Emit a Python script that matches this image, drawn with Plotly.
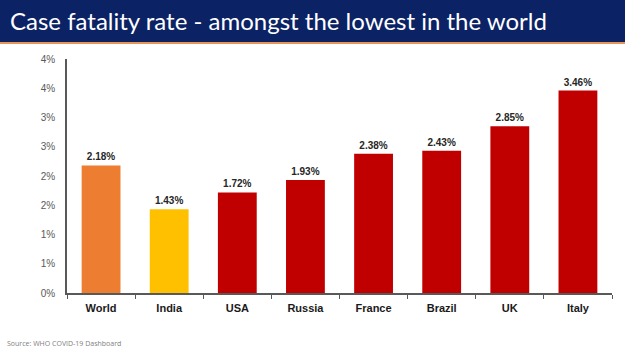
import plotly.graph_objects as go

countries = ["World", "India", "USA", "Russia", "France", "Brazil", "UK", "Italy"]
cfr = [2.18, 1.43, 1.72, 1.93, 2.38, 2.43, 2.85, 3.46]
bar_colors = ["#ED7D31", "#FFC000", "#C00000", "#C00000", "#C00000", "#C00000", "#C00000", "#C00000"]
y_tickvals = [0, 0.5, 1.0, 1.5, 2.0, 2.5, 3.0, 3.5, 4.0]
y_ticktext = ["0%", "1%", "1%", "2%", "2%", "3%", "3%", "4%", "4%"]
title = "Case fatality rate - amongst the lowest in the world"
source = "Source: WHO COVID-19 Dashboard"

W, H = 625, 351
ml, mr, mt, mb = 67, 13, 59, 58
ph = H - mt - mb

def py(px):
    return (H - mb - px) / ph

fig = go.Figure(go.Bar(
    x=countries, y=cfr,
    marker=dict(color=bar_colors, line=dict(width=0)),
    text=[f"{v:.2f}%" for v in cfr],
    textposition="outside",
    textfont=dict(family="Liberation Sans, Arial", size=10, color="#262626", weight="bold"),
    cliponaxis=False,
))

fig.update_layout(
    width=W, height=H,
    margin=dict(l=ml, r=mr, t=mt, b=mb),
    paper_bgcolor="white", plot_bgcolor="white",
    bargap=0.43,
    showlegend=False,
    xaxis=dict(
        showline=True, linecolor="#595959", linewidth=1.5,
        ticks="outside", tickson="boundaries", ticklen=4, tickcolor="#595959",
        tickfont=dict(family="Liberation Sans, Arial", size=11, color="#1a1a1a", weight="bold"),
        ticklabelstandoff=4,
        showgrid=False,
    ),
    yaxis=dict(
        range=[0, 4], tickvals=y_tickvals, ticktext=y_ticktext,
        showline=True, linecolor="#595959", linewidth=1.5,
        showgrid=False, zeroline=False, ticks="",
        tickfont=dict(family="Liberation Sans, Arial", size=10, color="#595959"),
        ticklabelstandoff=8,
    ),
    shapes=[
        dict(type="rect", xref="paper", yref="paper", x0=-ml / (W - ml - mr), x1=1 + mr / (W - ml - mr),
             y0=py(42), y1=py(0), fillcolor="#0B2265", line=dict(width=0), layer="above"),
        dict(type="rect", xref="paper", yref="paper", x0=-ml / (W - ml - mr), x1=1 + mr / (W - ml - mr),
             y0=py(44), y1=py(42), fillcolor="#E8955A", line=dict(width=0), layer="above"),
    ],
    annotations=[
        dict(text=title, xref="paper", yref="paper", x=-(ml - 8) / (W - ml - mr), y=py(21),
             xanchor="left", yanchor="middle", showarrow=False,
             font=dict(family="Lato", size=24, color="white")),
        dict(text=source, xref="paper", yref="paper", x=-(ml - 5) / (W - ml - mr), y=py(343),
             xanchor="left", yanchor="middle", showarrow=False,
             font=dict(family="Open Sans", size=7, color="#808080")),
    ],
)

fig.write_html("out.html")
